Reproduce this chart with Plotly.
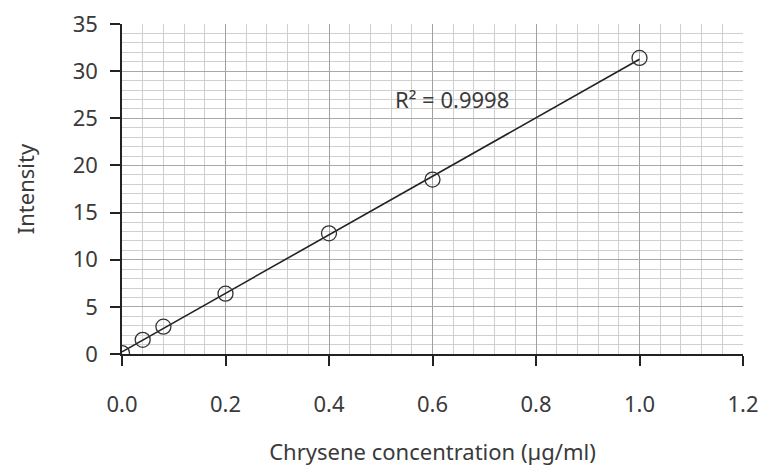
import numpy as np
import plotly.graph_objects as go

conc = [0.0, 0.04, 0.08, 0.2, 0.4, 0.6, 1.0]
intensity = [0.1, 1.5, 2.9, 6.4, 12.8, 18.5, 31.4]
x_ticks = [0.0, 0.2, 0.4, 0.6, 0.8, 1.0, 1.2]
x_tick_labels = ["0.0", "0.2", "0.4", "0.6", "0.8", "1.0", "1.2"]
y_ticks = [0, 5, 10, 15, 20, 25, 30, 35]
r2_label = "R² = 0.9998"

slope, intercept = np.polyfit(conc, intensity, 1)
trend_x = [min(conc), max(conc)]
trend_y = [slope * v + intercept for v in trend_x]

font = "Noto Sans"
txt = "#3a3a3a"
fs = 22
fig = go.Figure()
fig.add_trace(go.Scatter(x=trend_x, y=trend_y, mode="lines",
                         line=dict(color="#222222", width=1.6), showlegend=False))
fig.add_trace(go.Scatter(x=conc, y=intensity, mode="markers",
                         marker=dict(symbol="circle-open", size=15,
                                     line=dict(color="#333333", width=1.3), color="#333333"),
                         showlegend=False))
fig.add_annotation(x=0.638, y=27.0, text=r2_label, showarrow=False,
                   font=dict(family=font, size=fs, color=txt))

fig.update_layout(
    width=760, height=463,
    margin=dict(l=114, r=25, t=16, b=117),
    plot_bgcolor="white", paper_bgcolor="white",
    font=dict(family=font, size=fs, color=txt),
)
fig.update_xaxes(
    range=[0, 1.2], tickvals=x_ticks, ticktext=x_tick_labels,
    showgrid=True, gridcolor="#a0a0a0", gridwidth=1.3,
    minor=dict(dtick=0.04, showgrid=True, gridcolor="#cfcfcf", gridwidth=1.3),
    showline=True, linecolor="#222222", linewidth=1.5,
    ticks="outside", ticklen=10, tickcolor="#222222", tickwidth=1.5,
    ticklabelstandoff=20, ticklabeloverflow="allow", automargin=False,
    zeroline=False,
    title=dict(text="Chrysene concentration (µg/ml)", standoff=27,
               font=dict(family=font, size=fs, color=txt)),
)
fig.update_yaxes(
    range=[0, 35], tickvals=y_ticks,
    showgrid=True, gridcolor="#a8a8a8", gridwidth=1.3,
    minor=dict(dtick=1, showgrid=True, gridcolor="#cfcfcf", gridwidth=1.3),
    showline=True, linecolor="#222222", linewidth=1.5,
    ticks="outside", ticklen=10, tickcolor="#222222", tickwidth=1.5,
    ticklabelstandoff=8, ticklabeloverflow="allow", automargin=False,
    zeroline=False,
    title=dict(text="Intensity", standoff=32,
               font=dict(family=font, size=fs, color=txt)),
)
fig.write_html("out.html")
